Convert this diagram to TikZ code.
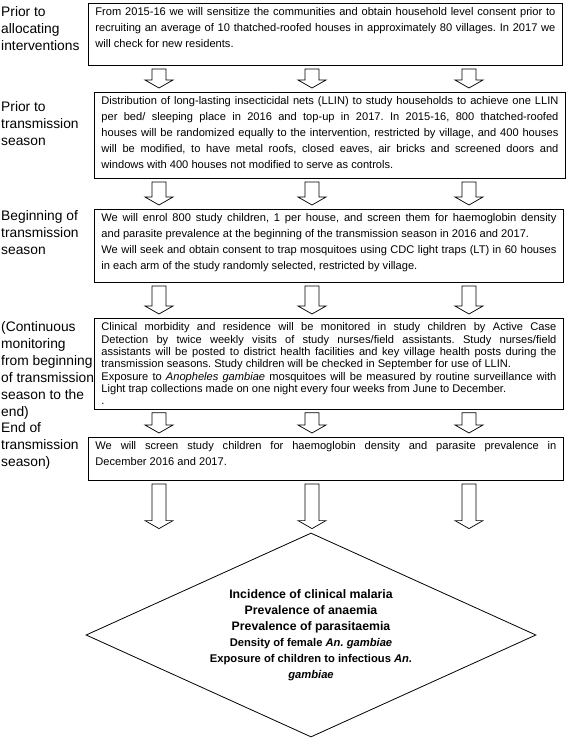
\documentclass[tikz,border=0pt]{standalone}
\usepackage{fontspec}
\setmainfont{Liberation Sans}
\usetikzlibrary{shapes.geometric,calc}

\tolerance=10000
\hyphenpenalty=10000
\exhyphenpenalty=10000
\frenchspacing

% hollow block arrow from one box down to the next, at column x (in px)
\newcommand{\downflow}[3]{%
  \draw[hollow] let \p1=(#2.south), \p2=(#3.north) in
    (#1pt-7pt,\y1-3pt) -- (#1pt+7pt,\y1-3pt) -- (#1pt+7pt,\y2+12pt)
    -- (#1pt+14pt,\y2+12pt) -- (#1pt,\y2+4pt) -- (#1pt-14pt,\y2+12pt)
    -- (#1pt-7pt,\y2+12pt) -- cycle;}
\newcommand{\rowflow}[2]{\downflow{159}{#1}{#2}\downflow{312}{#1}{#2}\downflow{469}{#1}{#2}}
% empty room below the last line of a box
\newcommand{\boxfoot}[1]{\rule[-#1pt]{0pt}{0pt}}

\begin{document}
\begin{tikzpicture}[
  x=1pt, y=-1pt,
  stage/.style={font=\fontsize{13.8}{17}\selectfont, align=left, anchor=north west, inner sep=0pt},
  stepbox/.style={draw, line width=0.9pt, anchor=north west, align=justify, inner xsep=7pt,
               inner ysep=4.5pt, font=\fontsize{11.1}{16}\selectfont},
  hollow/.style={draw, line width=0.7pt, fill=white},
  outcome/.style={draw, diamond, aspect=2.2, line width=0.8pt, minimum width=450pt,
               minimum height=204pt, inner sep=0pt, align=center,
               font=\fontsize{12.3}{16}\selectfont\bfseries},
]
  \useasboundingbox (0,0) rectangle (568,738);

  % Stage labels in the left column
  \node[stage] (s1) at (1,6) {Prior to\\ allocating\\ interventions};
  \node[stage] (s2) at (1,101) {Prior to\\ transmission\\ season};
  \node[stage] (s3) at (1,210) {Beginning of\\ transmission\\ season};
  \node[stage] (s4) at (1,321) {(Continuous\\ monitoring\\ from beginning\\ of transmission\\ season to the\\ end)};
  \node[stage] (s5) at (1,422) {End of\\ transmission\\ season)};

  % Study steps
  \node[stepbox, text width=460pt] (b1) at (88,3)
    {From 2015-16 we will sensitize the communities and obtain household level consent prior to\linebreak
     recruiting an average of 10 thatched-roofed houses in approximately 80 villages. In 2017 we\linebreak
     will check for new residents.\boxfoot{13}};
  \node[stepbox, text width=457pt] (b2) at (94,92)
    {Distribution of long-lasting insecticidal nets (LLIN) to study households to achieve one LLIN\linebreak
     per bed/ sleeping place in 2016 and top-up in 2017. In 2015-16, 800 thatched-roofed\linebreak
     houses will be randomized equally to the intervention, restricted by village, and 400 houses\linebreak
     will be modified, to have metal roofs, closed eaves, air bricks and screened doors and\linebreak
     windows with 400 houses not modified to serve as controls.\boxfoot{5}};
  \node[stepbox, text width=455pt] (b3) at (94,209)
    {We will enrol 800 study children, 1 per house, and screen them for haemoglobin density\linebreak
     and parasite prevalence at the beginning of the transmission season in 2016 and 2017.\\
     We will seek and obtain consent to trap mosquitoes using CDC light traps (LT) in 60 houses\linebreak
     in each arm of the study randomly selected, restricted by village.\boxfoot{8}};
  \node[stepbox, text width=455pt, font=\fontsize{11.1}{12.3}\selectfont] (b4) at (94,318)
    {Clinical morbidity and residence will be monitored in study children by Active Case\linebreak
     Detection by twice weekly visits of study nurses/field assistants. Study nurses/field\linebreak
     assistants will be posted to district health facilities and key village health posts during the\linebreak
     transmission seasons. Study children will be checked in September for use of LLIN.\\
     Exposure to \textit{Anopheles gambiae} mosquitoes will be measured by routine surveillance with\linebreak
     Light trap collections made on one night every four weeks from June to December.\\
     .};
  \node[stepbox, text width=461pt] (b5) at (88,437)
    {We will screen study children for haemoglobin density and parasite prevalence in\linebreak
     December 2016 and 2017.\boxfoot{10}};

  % Outcomes
  \node[outcome] (goal) at (311,635)
    {Incidence of clinical malaria\\
     Prevalence of anaemia\\
     Prevalence of parasitaemia\\
     \fontsize{11.2}{16}\selectfont Density of female \textit{An. gambiae}\\
     \fontsize{11.2}{16}\selectfont Exposure of children to infectious \textit{An.}\\
     \fontsize{11.2}{16}\selectfont\textit{gambiae}};

  % Block arrows between the stages
  \rowflow{b1}{b2}
  \rowflow{b2}{b3}
  \rowflow{b3}{b4}
  \rowflow{b4}{b5}
  \rowflow{b5}{goal}
\end{tikzpicture}
\end{document}
